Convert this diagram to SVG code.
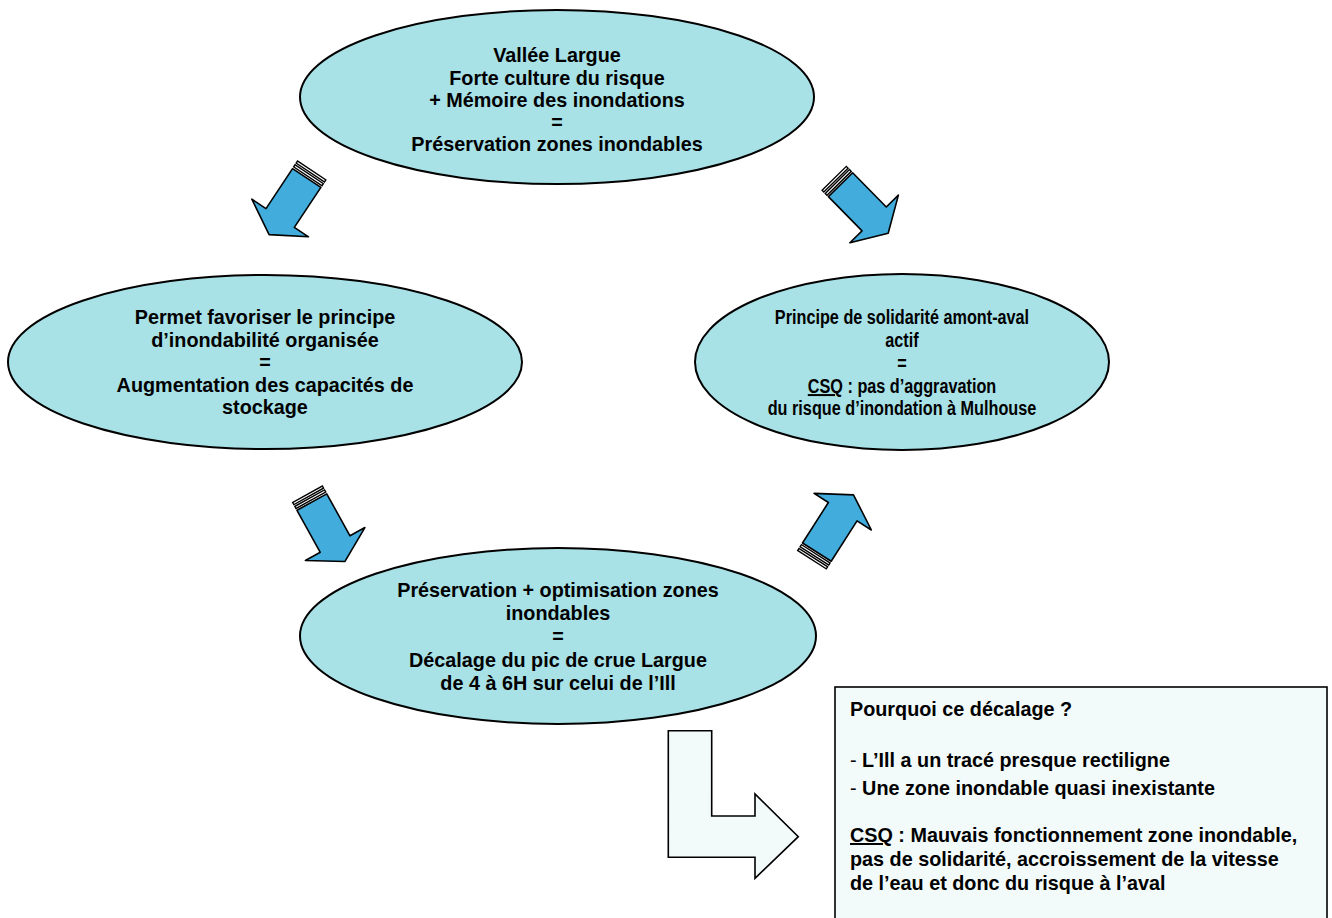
<svg xmlns="http://www.w3.org/2000/svg" width="1332" height="918" viewBox="0 0 1332 918">
<style>
.ell{fill:#A8E2E7;stroke:#000;stroke-width:2}
.t{font-family:"Liberation Sans",Arial,sans-serif;font-weight:bold;font-size:19.8px;fill:#000}
.c{text-anchor:middle}
.bl{fill:#42ADDC;stroke:#000;stroke-width:1.6;stroke-linejoin:round}
.st{fill:#fff;stroke:#000;stroke-width:1.4}
.lt{fill:#F2FBFA;stroke:#000;stroke-width:1.6}
</style>
<defs>
<g id="barrow">
<rect class="st" x="0" y="-17" width="2.5" height="34"/>
<rect class="st" x="4.5" y="-17" width="2.5" height="34"/>
<polygon class="bl" points="9,-17 57,-17 57,-34 77,0 57,34 57,17 9,17"/>
</g>
</defs>
<rect width="1332" height="918" fill="#fff"/>
<g id="connectors">
<use href="#barrow" transform="translate(311.7 170.5) rotate(123.6)"/>
<use href="#barrow" transform="translate(834.2 178.3) rotate(45.5)"/>
<use href="#barrow" transform="translate(307.5 494.2) rotate(61)"/>
<use href="#barrow" transform="translate(812 559.7) rotate(-57.4)"/>
<polygon class="lt" points="668.3,730.7 711.7,730.7 711.7,816 755,816 755,794 798.3,836.7 755,878.3 755,857.3 668.3,857.3"/>
</g>
<g id="node-top">
<ellipse class="ell" cx="557" cy="97" rx="257" ry="87"/>
<text class="t c" x="557" y="62">Vallée Largue</text>
<text class="t c" x="557" y="85">Forte culture du risque</text>
<text class="t c" x="557" y="107">+ Mémoire des inondations</text>
<text class="t c" x="557" y="129">=</text>
<text class="t c" x="557" y="151">Préservation zones inondables</text>
</g>
<g id="node-left">
<ellipse class="ell" cx="265" cy="362" rx="257" ry="87"/>
<text class="t c" x="265" y="324">Permet favoriser le principe</text>
<text class="t c" x="265" y="347">d’inondabilité organisée</text>
<text class="t c" x="265" y="369">=</text>
<text class="t c" x="265" y="392">Augmentation des capacités de</text>
<text class="t c" x="265" y="414">stockage</text>
</g>
<g id="node-right">
<ellipse class="ell" cx="902" cy="362" rx="207" ry="88"/>
<g transform="translate(902 0) scale(0.82 1)">
<text class="t c" x="0" y="324">Principe de solidarité amont-aval</text>
<text class="t c" x="0" y="347">actif</text>
<text class="t c" x="0" y="370">=</text>
<text class="t c" x="0" y="393"><tspan text-decoration="underline">CSQ</tspan> : pas d’aggravation</text>
<text class="t c" x="0" y="415">du risque d’inondation à Mulhouse</text>
</g>
</g>
<g id="node-bottom">
<ellipse class="ell" cx="558" cy="636" rx="258" ry="88"/>
<text class="t c" x="558" y="597">Préservation + optimisation zones</text>
<text class="t c" x="558" y="620">inondables</text>
<text class="t c" x="558" y="643">=</text>
<text class="t c" x="558" y="667">Décalage du pic de crue Largue</text>
<text class="t c" x="558" y="690">de 4 à 6H sur celui de l’Ill</text>
</g>
<g id="node-box">
<rect class="lt" x="835" y="687" width="492" height="240"/>
<text class="t" x="850" y="716">Pourquoi ce décalage ?</text>
<text class="t" x="850" y="767"><tspan font-weight="normal">-</tspan> L’Ill a un tracé presque rectiligne</text>
<text class="t" x="850" y="795"><tspan font-weight="normal">-</tspan> Une zone inondable quasi inexistante</text>
<text class="t" x="850" y="842"><tspan text-decoration="underline">CSQ</tspan> : Mauvais fonctionnement zone inondable,</text>
<text class="t" x="850" y="866">pas de solidarité, accroissement de la vitesse</text>
<text class="t" x="850" y="890">de l’eau et donc du risque à l’aval</text>
</g>
</svg>
